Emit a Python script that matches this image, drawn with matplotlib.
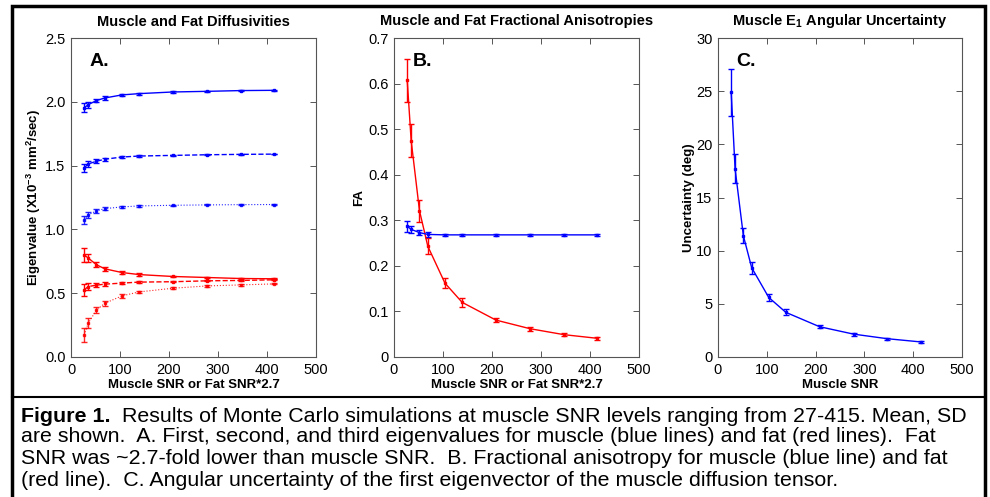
import matplotlib
matplotlib.use("Agg")
import matplotlib.pyplot as plt
from matplotlib import font_manager
from matplotlib.patches import Rectangle
from matplotlib.lines import Line2D

plt.rcParams["font.family"] = ["Liberation Sans", "DejaVu Sans"]
plt.rcParams["mathtext.fontset"] = "custom"
plt.rcParams["mathtext.rm"] = "Liberation Sans"
plt.rcParams["mathtext.bf"] = "Liberation Sans:bold"

# muscle SNR levels
snr = [27, 35, 52, 69, 104, 139, 208, 278, 347, 415]

# A. eigenvalues (x10^-3 mm^2/sec), mean and SD
mus_l1 = [1.953, 1.977, 2.010, 2.030, 2.054, 2.064, 2.077, 2.082, 2.088, 2.090]
mus_l1_sd = [0.035, 0.025, 0.015, 0.012, 0.008, 0.007, 0.005, 0.005, 0.004, 0.004]
mus_l2 = [1.482, 1.513, 1.534, 1.550, 1.567, 1.575, 1.580, 1.585, 1.588, 1.590]
mus_l2_sd = [0.030, 0.022, 0.014, 0.011, 0.008, 0.006, 0.005, 0.004, 0.004, 0.003]
mus_l3 = [1.075, 1.114, 1.145, 1.163, 1.176, 1.184, 1.189, 1.192, 1.194, 1.195]
mus_l3_sd = [0.033, 0.022, 0.013, 0.010, 0.008, 0.006, 0.004, 0.004, 0.003, 0.003]
fat_l1 = [0.800, 0.776, 0.723, 0.691, 0.662, 0.646, 0.631, 0.623, 0.615, 0.613]
fat_l1_sd = [0.053, 0.030, 0.020, 0.016, 0.011, 0.009, 0.006, 0.005, 0.005, 0.004]
fat_l2 = [0.526, 0.552, 0.563, 0.571, 0.579, 0.587, 0.590, 0.597, 0.600, 0.605]
fat_l2_sd = [0.048, 0.030, 0.018, 0.015, 0.010, 0.008, 0.006, 0.005, 0.004, 0.004]
fat_l3 = [0.172, 0.264, 0.368, 0.421, 0.479, 0.510, 0.539, 0.557, 0.565, 0.573]
fat_l3_sd = [0.053, 0.040, 0.025, 0.020, 0.014, 0.010, 0.008, 0.006, 0.005, 0.004]

# B. fractional anisotropy
mus_fa = [0.287, 0.280, 0.273, 0.269, 0.268, 0.268, 0.268, 0.268, 0.268, 0.268]
mus_fa_sd = [0.012, 0.008, 0.005, 0.005, 0.003, 0.003, 0.002, 0.002, 0.002, 0.002]
fat_fa = [0.607, 0.475, 0.321, 0.243, 0.162, 0.120, 0.081, 0.062, 0.049, 0.041]
fat_fa_sd = [0.047, 0.036, 0.024, 0.018, 0.011, 0.010, 0.005, 0.004, 0.004, 0.003]

# C. angular uncertainty (deg)
ang = [24.9, 17.7, 11.4, 8.4, 5.6, 4.2, 2.85, 2.15, 1.72, 1.42]
ang_sd = [2.2, 1.35, 0.7, 0.55, 0.33, 0.27, 0.15, 0.14, 0.1, 0.08]

W, H = 990, 497
fig = plt.figure(figsize=(W / 100, H / 100), dpi=100)


def box(l, t, r, b):
    return [l / W, 1 - b / H, (r - l) / W, (b - t) / H]


def series(ax, y, sd, color, ls, lw=1.0, alpha=1.0):
    ax.errorbar(snr, y, yerr=sd, color=color, ls=ls, lw=lw, marker="s", ms=1.6,
                capsize=2.5, elinewidth=1.0, capthick=1.0, alpha=alpha)


def style(ax, title, xlabel, ylabel, letter, ylim, yticks, yfmt, ypad):
    ax.set_xlim(0, 500)
    ax.set_xticks(range(0, 501, 100))
    ax.set_ylim(*ylim)
    ax.set_yticks(yticks)
    ax.set_yticklabels([yfmt.format(v) for v in yticks])
    ax.tick_params(direction="in", top=True, right=True, length=4, width=0.7,
                   labelsize=10.5, color="#555555", pad=4)
    for s in ax.spines.values():
        s.set_color("#555555")
        s.set_linewidth(0.8)
    ax.set_title(title, fontsize=10.5, fontweight="bold", pad=9)
    ax.set_xlabel(xlabel, fontsize=9.5, fontweight="bold", labelpad=2)
    ax.set_ylabel(ylabel, fontsize=9.5, fontweight="bold", labelpad=ypad)
    ax.text(0.075, 0.925, letter, transform=ax.transAxes, fontsize=14,
            fontweight="bold", va="center", ha="left")


axA = fig.add_axes(box(71, 38, 316, 357))
series(axA, mus_l1, mus_l1_sd, "#0000ff", "-")
series(axA, mus_l2, mus_l2_sd, "#0000ff", "--")
series(axA, mus_l3, mus_l3_sd, "#0000ff", ":", lw=0.8, alpha=0.85)
series(axA, fat_l1, fat_l1_sd, "#ff0000", "-")
series(axA, fat_l2, fat_l2_sd, "#ff0000", "--")
series(axA, fat_l3, fat_l3_sd, "#ff0000", ":", lw=0.8, alpha=0.85)
style(axA, "Muscle and Fat Diffusivities", "Muscle SNR or Fat SNR*2.7",
      r"Eigenvalue (X10$^{\mathbf{-3}}$ mm$^{\mathbf{2}}$/sec)", "A.",
      (0, 2.5), [0, 0.5, 1.0, 1.5, 2.0, 2.5], "{:.1f}", 1.5)

axB = fig.add_axes(box(394, 38, 639, 357))
series(axB, fat_fa, fat_fa_sd, "#ff0000", "-")
series(axB, mus_fa, mus_fa_sd, "#0000ff", "-")
style(axB, "Muscle and Fat Fractional Anisotropies", "Muscle SNR or Fat SNR*2.7",
      "FA", "B.", (0, 0.7), [0, 0.1, 0.2, 0.3, 0.4, 0.5, 0.6, 0.7], "{:g}", 2)

axC = fig.add_axes(box(718, 38, 962, 357))
series(axC, ang, ang_sd, "#0000ff", "-")
style(axC, r"Muscle E$_{\mathbf{1}}$ Angular Uncertainty", "Muscle SNR",
      "Uncertainty (deg)", "C.", (0, 30), [0, 5, 10, 15, 20, 25, 30], "{:g}", 1)

# outer frame and caption box
fig.add_artist(Rectangle((12 / W, -0.05), 973 / W, 1.05 - 6 / H, transform=fig.transFigure,
                         fill=False, lw=2.5, ec="black"))
fig.add_artist(Line2D([12 / W, 985 / W], [1 - 397 / H] * 2, transform=fig.transFigure,
                      lw=1.5, color="black"))

# caption (narrow font if available)
names = {f.name for f in font_manager.fontManager.ttflist}
if "Liberation Sans Narrow" in names:
    cap_font, cap_size = ["Liberation Sans Narrow"], 16.5
else:
    cap_font, cap_size = ["Liberation Sans"], 15.4
cap_lines = [
    "Results of Monte Carlo simulations at muscle SNR levels ranging from 27-415. Mean, SD",
    "are shown.  A. First, second, and third eigenvalues for muscle (blue lines) and fat (red lines).  Fat",
    "SNR was ~2.7-fold lower than muscle SNR.  B. Fractional anisotropy for muscle (blue line) and fat",
    "(red line).  C. Angular uncertainty of the first eigenvector of the muscle diffusion tensor.",
]
cap_y = [416, 437, 459, 480]
x0 = 21
fig.canvas.draw()
r = fig.canvas.get_renderer()
t0 = fig.text(x0 / W, 1 - cap_y[0] / H, "Figure 1.", family=cap_font, fontweight="bold",
              fontsize=cap_size, va="center")
w0 = t0.get_window_extent(r).width
fig.text((x0 + w0) / W, 1 - cap_y[0] / H, "  " + cap_lines[0], family=cap_font,
         fontsize=cap_size, va="center")
for line, y in zip(cap_lines[1:], cap_y[1:]):
    fig.text(x0 / W, 1 - y / H, line, family=cap_font, fontsize=cap_size, va="center")

fig.savefig("out.png", dpi=100)
